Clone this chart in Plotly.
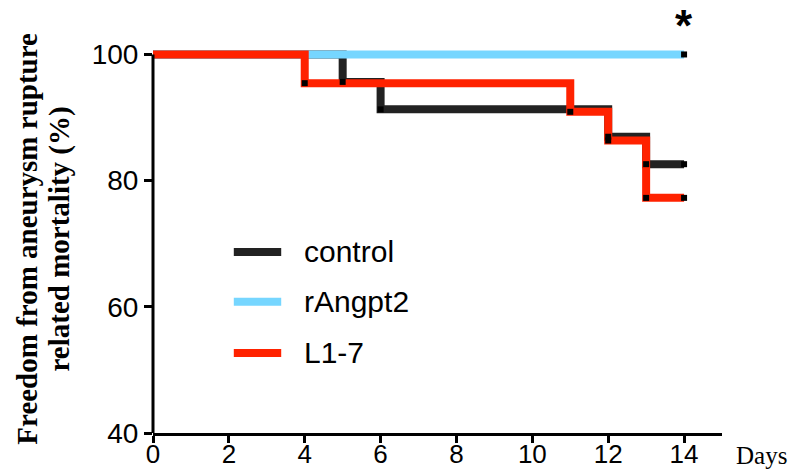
import plotly.graph_objects as go

# Data (Kaplan-Meier steps)
control_days = [0, 5, 6, 12, 13, 14]
control_surv = [100, 95.65, 91.30, 86.96, 82.61, 82.61]
rangpt2_days = [0, 14]
rangpt2_surv = [100, 100]
l17_days = [0, 4, 11, 12, 13, 14]
l17_surv = [100, 95.45, 90.91, 86.36, 77.27, 77.27]

series_names = ["control", "rAngpt2", "L1-7"]
series_colors = ["#222222", "#76D6FF", "#FF2200"]
x_ticks = [0, 2, 4, 6, 8, 10, 12, 14]
y_ticks = [40, 60, 80, 100]

series = [(control_days, control_surv), (rangpt2_days, rangpt2_surv), (l17_days, l17_surv)]

fig = go.Figure()
for (d, s), name, col in zip(series, series_names, series_colors):
    fig.add_trace(go.Scatter(x=d, y=s, mode="lines", name=name,
                             line=dict(color=col, width=8, shape="hv"),
                             showlegend=False))

# censor / event markers
mx, my = [], []
for d, s in series:
    mx += d[1:]
    my += s[1:]
fig.add_trace(go.Scatter(x=mx, y=my, mode="markers", showlegend=False,
                         marker=dict(symbol="square", size=6, color="black"),
                         cliponaxis=False))

# manual legend
leg_y = [68.7, 60.8, 52.7]
for name, col, yy in zip(series_names, series_colors, leg_y):
    fig.add_shape(type="line", xref="x", yref="y", x0=2.13, x1=3.38, y0=yy, y1=yy,
                  line=dict(color=col, width=8))
    fig.add_annotation(x=3.93, y=yy, xref="x", yref="y", text=name, showarrow=False,
                       xanchor="left", yanchor="middle",
                       font=dict(family="Arial, Liberation Sans", size=30, color="black"))

# y axis line (only up to 100)
fig.add_shape(type="line", xref="paper", yref="y", x0=0, x1=0, y0=40, y1=100,
              line=dict(color="black", width=3))

# y title lines
title_font = dict(family="Liberation Serif, Times New Roman", size=29, color="black", weight="bold")
fig.add_annotation(x=-0.222, y=0.5, xref="paper", yref="paper", text="Freedom from aneurysm rupture",
                   textangle=-90, showarrow=False, xanchor="center", yanchor="middle", font=title_font)
fig.add_annotation(x=-0.166, y=0.5, xref="paper", yref="paper", text="related mortality (%)",
                   textangle=-90, showarrow=False, xanchor="center", yanchor="middle", font=title_font)

fig.add_annotation(x=1.07, y=-0.058, xref="paper", yref="paper", text="Days", showarrow=False,
                   xanchor="center", yanchor="middle",
                   font=dict(family="Liberation Serif, Times New Roman", size=25, color="black"))

fig.add_annotation(x=14, y=1.05, xref="x", yref="paper", text="*", showarrow=False,
                   xanchor="center", yanchor="middle",
                   font=dict(family="Arial, Liberation Sans", size=44, color="black", weight="bold"))

fig.update_layout(
    width=795, height=473, autosize=False,
    margin=dict(l=153, r=73, t=45, b=40),
    paper_bgcolor="white", plot_bgcolor="white",
    xaxis=dict(range=[0, 15], tickvals=x_ticks, ticks="outside", ticklen=7, tickwidth=3,
               tickcolor="black", showline=True, linecolor="black", linewidth=3,
               showgrid=False, zeroline=False, automargin=False,
               tickfont=dict(family="Arial, Liberation Sans", size=26, color="black"),
               ticklabelstandoff=-11),
    yaxis=dict(range=[40, 101.5], tickvals=y_ticks, ticks="outside", ticklen=8, tickwidth=3,
               tickcolor="black", showline=False, showgrid=False, zeroline=False,
               automargin=False,
               tickfont=dict(family="Arial, Liberation Sans", size=28, color="black")),
)

fig.write_html("out.html")
